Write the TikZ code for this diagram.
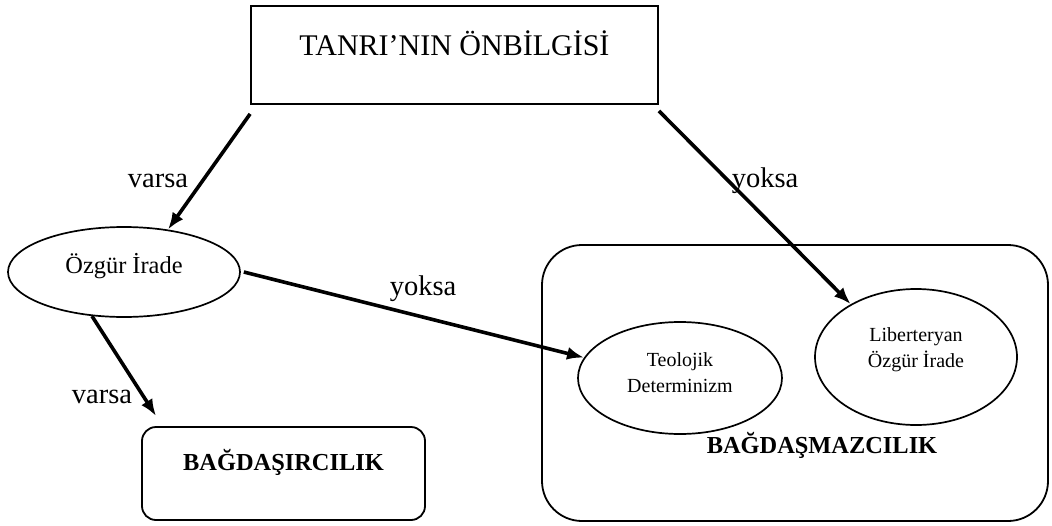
\documentclass[tikz,border=0pt]{standalone}
\usepackage{fontspec}
\setmainfont{Liberation Serif}
\usetikzlibrary{shapes.geometric,arrows.meta}
\newcommand{\yukari}[2]{\raisebox{0pt}[\height][\dimexpr\depth+#1\relax]{\begin{tabular}{@{}c@{}}#2\end{tabular}}}
\begin{document}
\begin{tikzpicture}[x=1pt,y=-1pt,
	kutu/.style={draw, line width=1.8pt, inner sep=0pt},
	elips/.style={ellipse, draw, line width=1.7pt, inner sep=0pt},
	ok/.style={-{Latex[length=17pt,width=13pt]}, line width=3.6pt},
	etiket/.style={anchor=base, inner sep=0pt, font=\fontsize{28.5}{34}\selectfont}]
	\useasboundingbox (0,0) rectangle (1052,525);
	\node (tanri) at (454.5,55) [kutu, minimum width=407pt, minimum height=98pt, text height=22pt, text depth=22pt, font=\fontsize{30}{36}\selectfont] {TANRI’NIN ÖNBİLGİSİ};
	\node (ozgur) at (124,272) [elips, minimum width=232pt, minimum height=90pt, text height=12pt, text depth=10pt, font=\fontsize{24.4}{29}\selectfont] {Özgür İrade};
	\node (uyumsuz) at (795,383) [kutu, rounded corners=40pt, minimum width=506pt, minimum height=276pt] {};
	\node (teo) at (680,378) [elips, minimum width=204pt, minimum height=112pt, font=\fontsize{20}{26}\selectfont] {\yukari{8pt}{Teolojik\\Determinizm}};
	\node (liber) at (916,357) [elips, minimum width=202pt, minimum height=136pt, font=\fontsize{20}{26}\selectfont] {\yukari{16pt}{Liberteryan\\Özgür İrade}};
	\node (bagdas) at (283.5,473.5) [kutu, rounded corners=14pt, minimum width=283pt, minimum height=93pt, text height=16pt, text depth=23pt, font=\bfseries\fontsize{24.4}{29}\selectfont] {BAĞDAŞIRCILIK};
	\node (bagdasmaz) at (822,453) [anchor=base, inner sep=0pt, font=\bfseries\fontsize{24.4}{29}\selectfont] {BAĞDAŞMAZCILIK};
	% oklar
	\draw[ok] ([yshift=-9pt]tanri.south west) -- (ozgur.44);
	\draw[ok] ([yshift=-6pt]tanri.south east) -- (liber.141);
	\draw[ok] ([xshift=3pt]ozgur.east) -- (teo.168);
	\draw[ok] (ozgur.234) -- ([xshift=15pt,yshift=10pt]bagdas.north west);
	% etiketler
	\node (varsa1) at (158,187) [etiket] {varsa};
	\node (yoksa1) at (765,187) [etiket] {yoksa};
	\node (yoksa2) at (423,295) [etiket] {yoksa};
	\node (varsa2) at (102,403) [etiket] {varsa};
\end{tikzpicture}
\end{document}
